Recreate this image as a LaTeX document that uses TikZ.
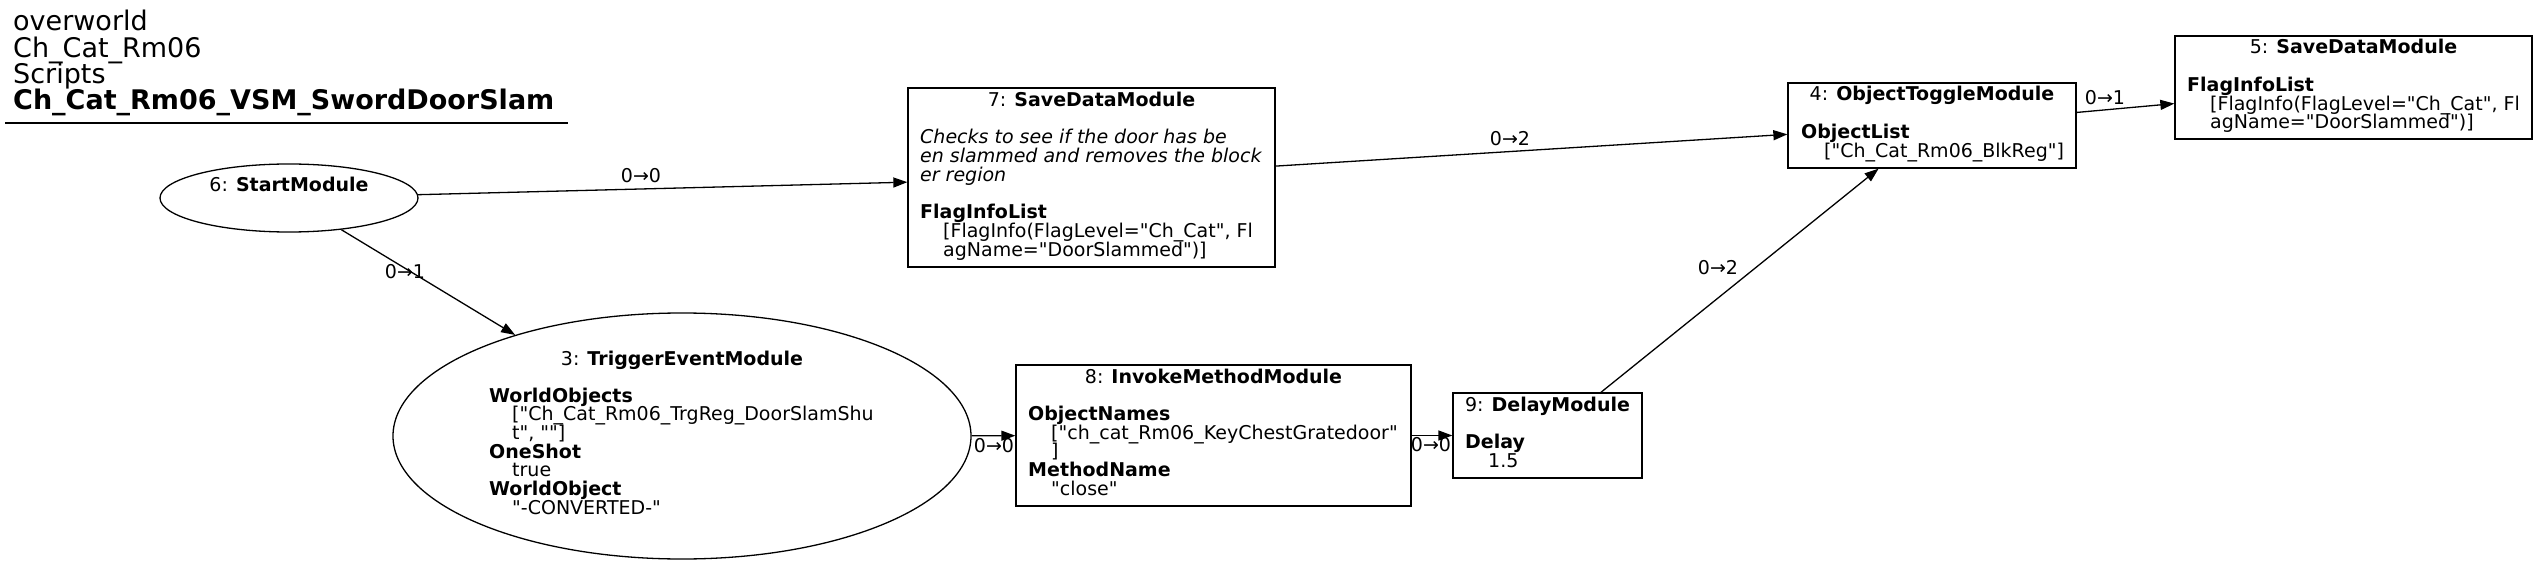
\documentclass[tikz,border=0pt]{standalone}
\usepackage{fontspec}
\setmainfont{DejaVu Sans}[Ligatures=TeXOff]
\usetikzlibrary{shapes.geometric,arrows.meta}
\newcommand\nodefont{\fontsize{19pt}{18.7pt}\selectfont\lineskiplimit=-100pt}
\newcommand\headfont{\fontsize{27pt}{26.3pt}\selectfont\lineskiplimit=-100pt}
\newcommand\ind{\kern23pt}
\begin{document}
\begin{tikzpicture}[x=1pt,y=-1pt,
  modbox/.style={draw, line width=1.3pt, rectangle, inner sep=0pt},
  modell/.style={draw, line width=1.3pt, ellipse, inner sep=0pt},
  ttl/.style={inner sep=0pt, font=\nodefont, anchor=base},
  body/.style={inner sep=0pt, font=\nodefont, anchor=base west},
  conn/.style={line width=1.3pt, -{Triangle[length=14pt,width=10pt]}},
  elabel/.style={inner sep=0pt, font=\nodefont, anchor=base}]
\useasboundingbox (0,0) rectangle (2537,569);

% header
\node[inner sep=0pt, anchor=base west, font=\headfont] (head) at (13,31)
  {\vtop{\hbox{overworld}\hbox{Ch\_Cat\_Rm06}\hbox{Scripts}\hbox{\textbf{Ch\_Cat\_Rm06\_VSM\_SwordDoorSlam}}}};
\coordinate (hl) at (5,123);
\coordinate (hr) at (568,123);
\draw[line width=1.3pt] (hl) -- (hr);

% shapes
\node[modell, minimum width=258pt, minimum height=68pt] (n6) at (289,198) {};
\node[modell, minimum width=578pt, minimum height=246pt] (n3) at (682,436) {};
\node[modbox, minimum width=367pt, minimum height=179pt] (n7) at (1091.5,177.5) {};
\node[modbox, minimum width=395pt, minimum height=141pt] (n8) at (1213.5,435.5) {};
\node[modbox, minimum width=189pt, minimum height=85pt] (n9) at (1547.5,435.5) {};
\node[modbox, minimum width=288pt, minimum height=85pt] (n4) at (1932,125.5) {};
\node[modbox, minimum width=357pt, minimum height=103pt] (n5) at (2353.5,87.5) {};

% texts
\node[ttl] (t6) at (289,192) {6: \textbf{StartModule}};

\node[ttl] (t3) at (682,365) {3: \textbf{TriggerEventModule}};
\node[body] (b3) at (489,402) {\vtop{\hbox{\textbf{WorldObjects}}\hbox{\ind["Ch\_Cat\_Rm06\_TrgReg\_DoorSlamShu}\hbox{\ind t", ""]}\hbox{\textbf{OneShot}}\hbox{\ind true}\hbox{\textbf{WorldObject}}\hbox{\ind"-CONVERTED-"}}};

\node[ttl] (t7) at (1091.5,106.5) {7: \textbf{SaveDataModule}};
\node[body] (b7) at (920,143.9) {\vtop{\hbox{\textit{Checks to see if the door has be}}\hbox{\textit{en slammed and removes the block}}\hbox{\textit{er region}}\hbox{}\hbox{\textbf{FlagInfoList}}\hbox{\ind[FlagInfo(FlagLevel="Ch\_Cat", Fl}\hbox{\ind agName="DoorSlammed")]}}};

\node[ttl] (t8) at (1213.5,383) {8: \textbf{InvokeMethodModule}};
\node[body] (b8) at (1028,420.4) {\vtop{\hbox{\textbf{ObjectNames}}\hbox{\ind["ch\_cat\_Rm06\_KeyChestGratedoor"}\hbox{\ind]}\hbox{\textbf{MethodName}}\hbox{\ind"close"}}};

\node[ttl] (t9) at (1547.5,411) {9: \textbf{DelayModule}};
\node[body] (b9) at (1465,448.4) {\vtop{\hbox{\textbf{Delay}}\hbox{\ind 1.5}}};

\node[ttl] (t4) at (1932,101) {4: \textbf{ObjectToggleModule}};
\node[body] (b4) at (1801,138.4) {\vtop{\hbox{\textbf{ObjectList}}\hbox{\ind["Ch\_Cat\_Rm06\_BlkReg"]}}};

\node[ttl] (t5) at (2353.5,54) {5: \textbf{SaveDataModule}};
\node[body] (b5) at (2187,91.4) {\vtop{\hbox{\textbf{FlagInfoList}}\hbox{\ind[FlagInfo(FlagLevel="Ch\_Cat", Fl}\hbox{\ind agName="DoorSlammed")]}}};

% connectors
\draw[conn] (n6) -- (n7);
\draw[conn] (n6) -- (n3);
\draw[conn] (n7) -- (n4);
\draw[conn] (n4) -- (n5);
\draw[conn] (n9) -- (n4);
\draw[conn] (n3) -- (n8);
\draw[conn] (n8) -- (n9);

% connector labels
\node[elabel] (l67) at (641,183) {0→0};
\node[elabel] (l63) at (405,279) {0→1};
\node[elabel] (l74) at (1510,146) {0→2};
\node[elabel] (l45) at (2105,105) {0→1};
\node[elabel] (l94) at (1718,275) {0→2};
\node[elabel] (l38) at (994,452) {0→0};
\node[elabel] (l89) at (1431,451) {0→0};
\end{tikzpicture}
\end{document}
